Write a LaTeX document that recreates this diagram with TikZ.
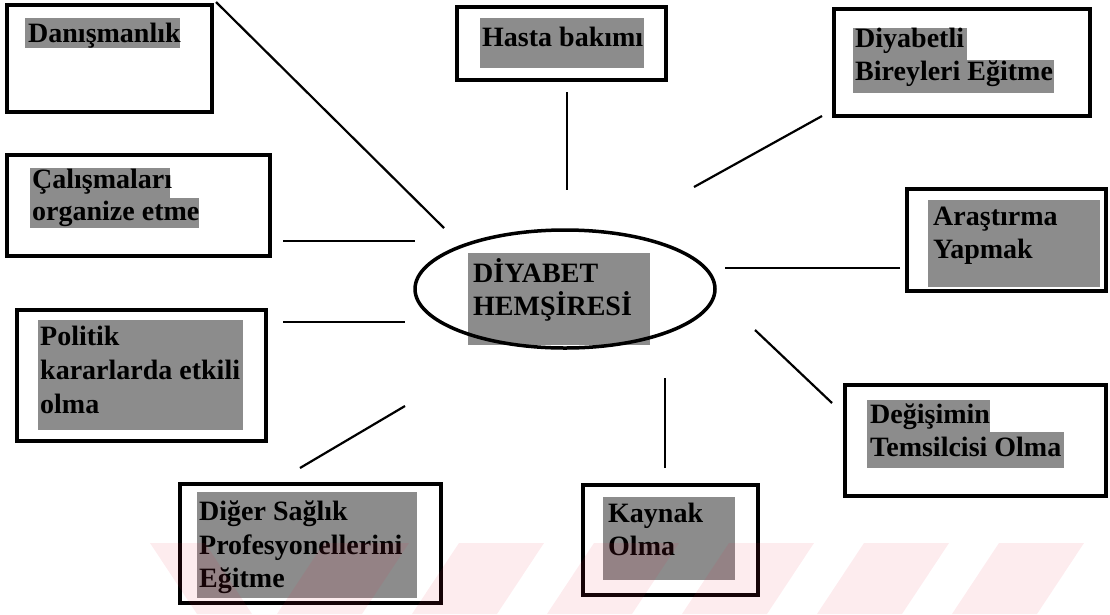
\documentclass[tikz,border=0pt]{standalone}
\usepackage{fontspec}
\setmainfont{Liberation Serif}
\usetikzlibrary{shapes.geometric}
\definecolor{halftone}{gray}{0.55}
\definecolor{stripe}{RGB}{235,40,70}
\begin{document}
\begin{tikzpicture}[x=1pt,y=-1pt,
  boxframe/.style={draw=black, line width=4.5pt, inner sep=0pt},
  txt/.style={anchor=base west, inner sep=0pt, font=\fontsize{28}{33}\selectfont\bfseries},
  hl/.style={fill=halftone},
  conn/.style={line width=2.2pt}]
\useasboundingbox (0,0) rectangle (1110,614);

% text shading
\fill[hl] (25,18) rectangle (180,48);
\fill[hl] (480,18) rectangle (644,68);
\fill[hl] (853,28) rectangle (967,60);
\fill[hl] (853,60) rectangle (1054,93);
\fill[hl] (30,168) rectangle (170,198);
\fill[hl] (30,198) rectangle (199,228);
\fill[hl] (928,200) rectangle (1100,287);
\fill[hl] (38,320) rectangle (243,430);
\fill[hl] (867,400) rectangle (990,432);
\fill[hl] (867,432) rectangle (1064,468);
\fill[hl] (197,492) rectangle (417,598);
\fill[hl] (603,497) rectangle (735,580);
\fill[hl] (468,253) rectangle (650,345);

% frames
\node[boxframe, minimum width=205, minimum height=107] (danis) at (109.5,58.5) {};
\node[boxframe, minimum width=209, minimum height=73] (bakim) at (561.5,43.5) {};
\node[boxframe, minimum width=256, minimum height=107] (egitim) at (962,62.5) {};
\node[boxframe, minimum width=263, minimum height=101] (organize) at (138.5,205.5) {};
\node[boxframe, minimum width=199, minimum height=102] (arastirma) at (1006.5,240) {};
\node[boxframe, minimum width=249, minimum height=131] (politik) at (141.5,375.5) {};
\node[boxframe, minimum width=261, minimum height=111] (degisim) at (975.5,440.5) {};
\node[boxframe, minimum width=261, minimum height=119] (profesyonel) at (310.5,543.5) {};
\node[boxframe, minimum width=175, minimum height=110] (kaynak) at (670.5,540) {};
\node[draw=black, line width=3.5pt, ellipse, inner sep=0pt, minimum width=300, minimum height=118] (hemsire) at (565,289) {};

% texts
\node[txt] (tA) at (28,42) {Danışmanlık};
\node[txt] (tB) at (482,46) {Hasta bakımı};
\node[txt] (tC1) at (855,47) {Diyabetli};
\node[txt] (tC2) at (855,80) {Bireyleri Eğitme};
\node[txt] (tD1) at (32,188) {Çalışmaları};
\node[txt] (tD2) at (32,220) {organize etme};
\node[txt] (tE1) at (933,225) {Araştırma};
\node[txt] (tE2) at (933,258) {Yapmak};
\node[txt] (tF1) at (40,345) {Politik};
\node[txt] (tF2) at (40,379) {kararlarda etkili};
\node[txt] (tF3) at (40,413) {olma};
\node[txt] (tG1) at (870,423) {Değişimin};
\node[txt] (tG2) at (870,456) {Temsilcisi Olma};
\node[txt] (tH1) at (199,520) {Diğer Sağlık};
\node[txt] (tH2) at (199,554) {Profesyonellerini};
\node[txt] (tH3) at (199,587) {Eğitme};
\node[txt] (tI1) at (608,522) {Kaynak};
\node[txt] (tI2) at (608,555) {Olma};
\node[txt] (tM1) at (473,282) {DİYABET};
\node[txt] (tM2) at (473,315) {HEMŞİRESİ};

% connector ends
\coordinate (a1) at (216,2);   \coordinate (a2) at (444,228);
\coordinate (b1) at (567,92);  \coordinate (b2) at (567,190);
\coordinate (c1) at (822,116); \coordinate (c2) at (694,187);
\coordinate (d1) at (283,241); \coordinate (d2) at (415,241);
\coordinate (e1) at (900,268); \coordinate (e2) at (725,268);
\coordinate (f1) at (283,322); \coordinate (f2) at (405,322);
\coordinate (g1) at (832,403); \coordinate (g2) at (755,330);
\coordinate (h1) at (300,468); \coordinate (h2) at (405,406);
\coordinate (i1) at (665,468); \coordinate (i2) at (665,378);

\draw[conn] (a1) -- (a2);
\draw[conn] (b1) -- (b2);
\draw[conn] (c1) -- (c2);
\draw[conn] (d1) -- (d2);
\draw[conn] (e1) -- (e2);
\draw[conn] (f1) -- (f2);
\draw[conn] (g1) -- (g2);
\draw[conn] (h1) -- (h2);
\draw[conn] (i1) -- (i2);

% faint slanted stripes along the bottom edge
\begin{scope}[fill=stripe, fill opacity=0.09]
\fill (150,543) -- (205,543) -- (252,614) -- (197,614) -- cycle;
\foreach \xt in {324,459,594,729,864,999}
  \fill (\xt,543) -- (\xt+85,543) -- (\xt+38,614) -- (\xt-47,614) -- cycle;
\end{scope}
\end{tikzpicture}
\end{document}
